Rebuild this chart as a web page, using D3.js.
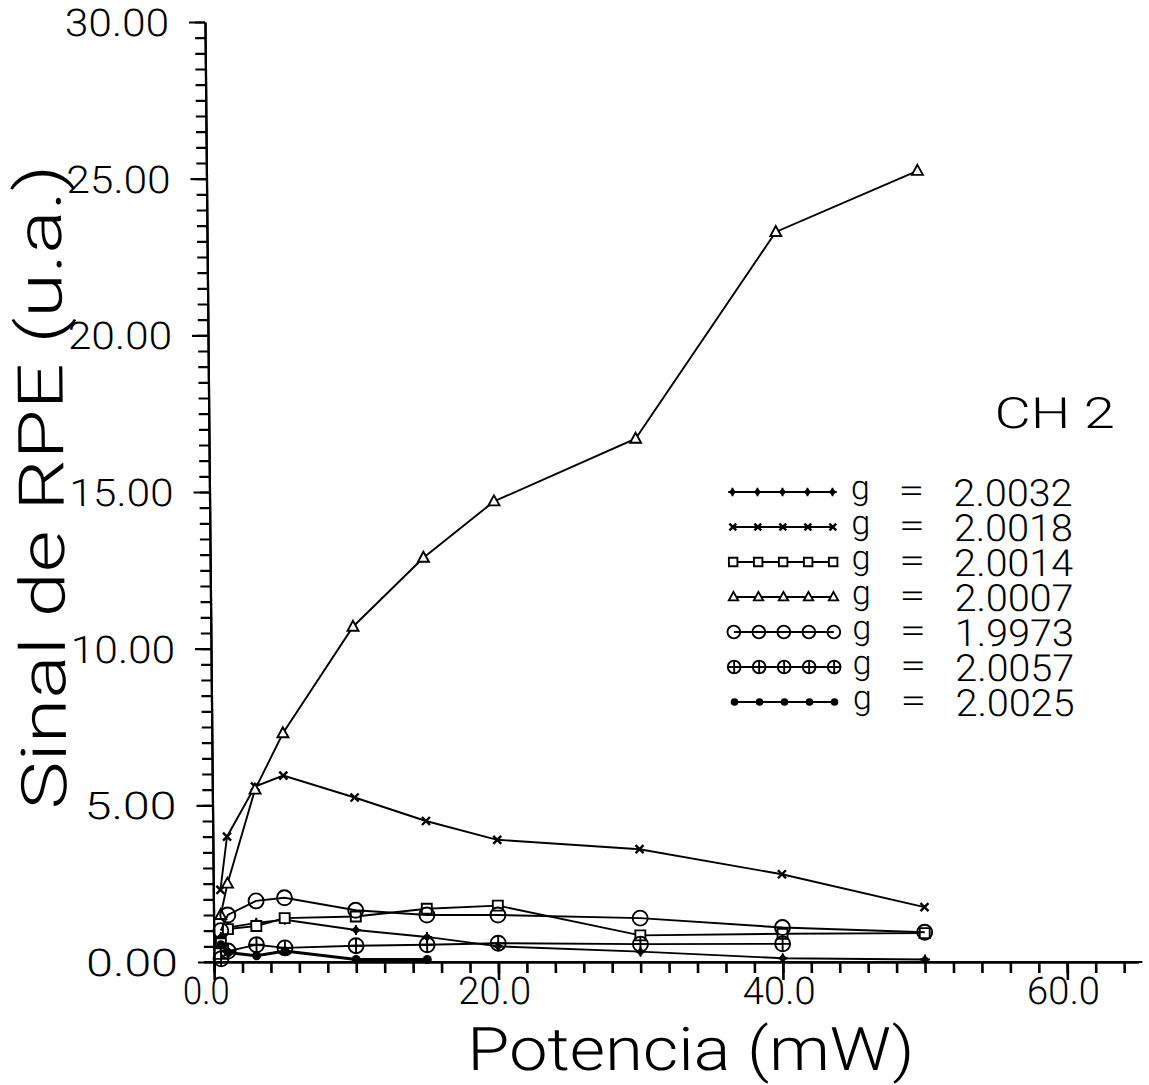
<!DOCTYPE html>
<html>
<head>
<meta charset="utf-8">
<script src="https://cdn.jsdelivr.net/npm/d3@7/dist/d3.min.js"></script>
<style>
  body { margin: 0; background: #fff; }
  text { font-family: Roboto, "DejaVu Sans", sans-serif; font-weight: 300; fill: #000; }
</style>
</head>
<body>
<svg width="1149" height="1085"></svg>
<script>
// power (mW) at which every series was measured
const powers = [0.5, 1, 3, 5, 10, 15, 20, 30, 40, 50];
const gLabels = ['2.0032', '2.0018', '2.0014', '2.0007', '1.9973', '2.0057', '2.0025'];
const sig2_0032 = [0.8, 1.1, 1.25, 1.35, 1.02, 0.8, 0.5, 0.33, 0.12, 0.08];
const sig2_0018 = [2.3, 4.0, 5.6, 5.95, 5.25, 4.5, 3.9, 3.6, 2.8, 1.75];
const sig2_0014 = [0.6, 1.05, 1.15, 1.4, 1.45, 1.7, 1.8, 0.85, 0.9, 0.92];
const sig2_0007 = [1.5, 2.5, 5.5, 7.3, 10.7, 12.9, 14.7, 16.7, 23.3, 25.25];
const sig1_9973 = [1.0, 1.5, 1.95, 2.05, 1.65, 1.5, 1.5, 1.4, 1.1, 0.95];
const sig2_0057 = [0.1, 0.35, 0.55, 0.45, 0.52, 0.55, 0.6, 0.57, 0.58, null];
const sig2_0025 = [0.55, 0.3, 0.2, 0.35, 0.08, 0.08, null, null, null, null];
const markerTypes = ['diamond', 'x', 'square', 'triangle', 'circle', 'ocross', 'dot'];

const xTickValues = [0, 20, 40, 60];
const xTickLabels = ['0.0', '20.0', '40.0', '60.0'];
const yTickValues = [0, 5, 10, 15, 20, 25, 30];
const yTickLabels = ['0.00', '5.00', '10.00', '15.00', '20.00', '25.00', '30.00'];

const series = [sig2_0032, sig2_0018, sig2_0014, sig2_0007, sig1_9973, sig2_0057, sig2_0025]
  .map((vals, i) => ({
    label: gLabels[i],
    marker: markerTypes[i],
    points: powers.map((p, j) => ({ p: p, v: vals[j] })).filter(d => d.v != null)
  }));

const svg = d3.select('svg');
const baseY = 962;
// the scanned plot leans a little: the axis top sits left of its bottom
const root = svg.append('g')
  .attr('transform', `translate(0,${baseY}) skewX(0.55) translate(0,${-baseY})`);

const x = d3.scaleLinear().domain([0, 65]).range([214, 214 + 65 * 14.22]);
const y = d3.scaleLinear().domain([0, 30]).range([baseY, 22]);

function txt(parent, str, px, py, size, len, anchor) {
  const t = parent.append('text')
    .attr('x', px).attr('y', py)
    .attr('font-size', size)
    .attr('text-anchor', anchor || 'start')
    .text(str);
  if (len) t.attr('textLength', len).attr('lengthAdjust', 'spacingAndGlyphs');
  return t;
}

// axes
const xMinorAxis = d3.axisBottom(x).tickValues(d3.range(0, 65, 2)).tickSize(11).tickSizeOuter(0).tickFormat('');
const xMajorAxis = d3.axisBottom(x).tickValues(xTickValues).tickSize(18).tickSizeOuter(0).tickFormat('');
const yMinorAxis = d3.axisLeft(y).tickValues(d3.range(0, 30.01, 0.5)).tickSize(10).tickSizeOuter(0).tickFormat('');
const yMajorAxis = d3.axisLeft(y).tickValues(yTickValues).tickSize(16).tickSizeOuter(0).tickFormat('');

[xMinorAxis, xMajorAxis].forEach(a => root.append('g').attr('class', 'xaxis').attr('transform', `translate(0,${baseY})`).call(a));
[yMinorAxis, yMajorAxis].forEach(a => root.append('g').attr('transform', `translate(${x(0)},0)`).call(a));
root.selectAll('.domain, .tick line').attr('stroke', '#000').attr('stroke-width', 2.2);
root.selectAll('.xaxis .tick line').attr('stroke-width', 2.6);
root.append('line').attr('x1', x(0) - 10).attr('x2', x(65) + 4)
  .attr('y1', baseY).attr('y2', baseY).attr('stroke', '#000').attr('stroke-width', 2.2);

xTickValues.forEach((v, i) => {
  txt(root, xTickLabels[i], x(v) - (i === 0 ? 8 : 4), 1004, 38, xTickLabels[i].length === 3 ? 47 : 73, 'middle');
});
yTickValues.forEach((v, i) => {
  txt(root, yTickLabels[i], 178, y(v) + 14, 38, yTickLabels[i].length === 4 ? 92 : 104, 'end');
});

// axis titles
txt(root, 'Potencia (mW)', 690, 1070, 60, 447, 'middle');
txt(root, 'Sinal de RPE (u.a.)', 0, 0, 63, 645, 'middle')
  .attr('transform', 'translate(68,487) rotate(-90)');
txt(root, 'CH 2', 1060, 428, 43, 120, 'middle');

// markers
function marker(parent, type, cx, cy, s) {
  const g = parent.append('g').attr('transform', `translate(${cx},${cy}) scale(${s})`);
  const st = { stroke: '#000', 'stroke-width': 1.9 / s };
  const apply = el => { Object.entries(st).forEach(([k, v]) => el.attr(k, v)); return el; };
  if (type === 'diamond') {
    g.append('path').attr('d', 'M0,-4.5L4.5,0L0,4.5L-4.5,0Z').attr('fill', '#000');
    apply(g.append('path').attr('d', 'M-5,0H5M0,-5V5'));
  } else if (type === 'x') {
    apply(g.append('path').attr('d', 'M-4,-4L4,4M-4,4L4,-4')).attr('stroke-width', 2.4 / s);
  } else if (type === 'square') {
    apply(g.append('rect').attr('x', -5).attr('y', -5).attr('width', 10).attr('height', 10).attr('fill', '#fff'));
  } else if (type === 'triangle') {
    apply(g.append('path').attr('d', 'M0,-6L5.5,4L-5.5,4Z').attr('fill', '#fff'));
  } else if (type === 'circle') {
    apply(g.append('circle').attr('r', 7.5).attr('fill', 'none'));
  } else if (type === 'ocross') {
    apply(g.append('circle').attr('r', 7.5).attr('fill', 'none'));
    apply(g.append('path').attr('d', 'M-7.5,0H7.5M0,-7.5V7.5'));
  } else if (type === 'dot') {
    g.append('circle').attr('r', 4.5).attr('fill', '#000');
  }
}

const line = d3.line().x(d => x(d.p)).y(d => y(d.v));
series.forEach(s => {
  root.append('path').datum(s.points)
    .attr('d', line)
    .attr('fill', 'none')
    .attr('stroke', '#000')
    .attr('stroke-width', s.marker === 'dot' ? 3 : 1.9);
  s.points.forEach(d => marker(root, s.marker, x(d.p), y(d.v), 1));
});

// legend
const legend = root.append('g');
series.forEach((s, i) => {
  const ly = 492 + i * 35;
  legend.append('line').attr('x1', 737).attr('x2', 837).attr('y1', ly).attr('y2', ly)
    .attr('stroke', '#000').attr('stroke-width', 1.8);
  d3.range(5).forEach(k => marker(legend, s.marker, 737 + k * 25, ly, 0.85));
  txt(legend, 'g', 865, ly + 7, 34, null, 'middle');
  txt(legend, '=', 916, ly + 10, 34, 26, 'middle');
  txt(legend, s.label, 958, ly + 13, 34, 119, 'start')
    .attr('transform', `translate(0,${ly}) scale(1,1.1) translate(0,${-ly})`);
});
</script>
</body>
</html>
